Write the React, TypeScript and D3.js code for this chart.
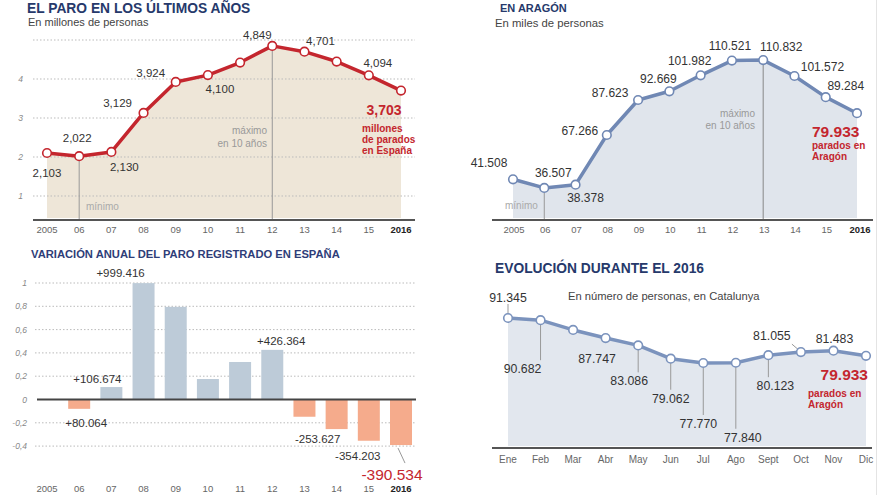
import React from 'react';
import * as d3 from 'd3';

// ---------- DATA ----------
const years = ['2005', '06', '07', '08', '09', '10', '11', '12', '13', '14', '15', '2016'];

const spainParo = [2.103, 2.022, 2.13, 3.129, 3.924, 4.1, 4.422, 4.849, 4.701, 4.448, 4.094, 3.703];
const spainLabels = ['2,103', '2,022', '2,130', '3,129', '3,924', '4,100', '', '4,849', '4,701', '', '4,094', ''];
const spainGrid = [1, 2, 3, 4, 5];
const spainTickLabels = ['1', '2', '3', '4'];

const aragonParo = [41.508, 36.507, 38.378, 67.266, 87.623, 92.669, 101.982, 110.521, 110.832, 101.572, 89.284, 79.933];
const aragonLabels = ['41.508', '36.507', '38.378', '67.266', '87.623', '92.669', '101.982', '110.521', '110.832', '101.572', '89.284', ''];

const variacion = [null, -0.08, 0.107, 0.999, 0.795, 0.176, 0.322, 0.426, -0.148, -0.254, -0.354, -0.391];
const variacionLabels = ['', '+80.064', '+106.674', '+999.416', '', '', '', '+426.364', '', '-253.627', '-354.203', ''];
const variacionTicks = [1, 0.8, 0.6, 0.4, 0.2, 0, -0.2, -0.4];

const months = ['Ene', 'Feb', 'Mar', 'Abr', 'May', 'Jun', 'Jul', 'Ago', 'Sept', 'Oct', 'Nov', 'Dic'];
const paro2016 = [91.345, 90.682, 87.747, 85.3, 83.086, 79.062, 77.77, 77.84, 80.123, 81.055, 81.483, 79.933];
const paro2016Labels = ['91.345', '90.682', '87.747', '', '83.086', '79.062', '77.770', '77.840', '80.123', '81.055', '81.483', ''];

// ---------- LAYOUT (label offsets relative to marks) ----------
const spainOff: [number, number][] = [[0, 24], [-2, -14], [13, 19], [-26, -6], [-25, -5], [12, 18], [0, 0], [-15, -7], [16, -7], [0, 0], [9, -8], [0, 0]];
const aragonOff: [number, number][] = [[-24, -12], [9, -11], [10, 17], [-27, 0], [-28, -3], [-11, -8], [-11, -10], [-2, -11], [18, -9], [28, -5], [20, -7], [0, 0]];
const varOff: [number, number][] = [[0, 0], [7, 18], [-14, -4], [-23, -6], [0, 0], [0, 0], [0, 0], [9, -5], [0, 0], [-19, 14], [-11, 19], [0, 0]];
const p16Off: [number, number, number][] = [
  // dx, dy, leader type
  [0, -16, 2], [-18, 53, 1], [24, 33, 0], [0, 0, 0], [-9, 40, 1], [0, 44, 1], [-5, 65, 1], [7, 79, 1], [7, 35, 1], [-29, -12, 3], [1, -8, 0], [0, 0, 0],
];

const FONT = '"Liberation Sans", Arial, Helvetica, sans-serif';
const TITLE = '#26396b';
const RED = '#c4262e';
const LABEL = '#333';
const TICK = '#888';

const fmt = (v: number) => String(v).replace('.', ',');

export default function App() {
  // Panel 1
  const x1 = d3.scalePoint<string>().domain(years).range([47, 401]);
  const y1 = d3.scaleLinear().domain([0, 5]).range([235, 40]);
  const line1 = d3.line<number>().x((_, i) => x1(years[i])!).y((d) => y1(d));
  const area1 = d3.area<number>().x((_, i) => x1(years[i])!).y0(218).y1((d) => y1(d));

  // Panel 2
  const x2 = d3.scalePoint<string>().domain(years).range([513, 857]);
  const y2 = d3.scaleLinear().domain([0, 120]).range([250.7, 44.3]);
  const line2 = d3.line<number>().x((_, i) => x2(years[i])!).y((d) => y2(d));
  const area2 = d3.area<number>().x((_, i) => x2(years[i])!).y0(218).y1((d) => y2(d));

  // Panel 3
  const x3 = d3.scalePoint<string>().domain(years).range([47, 401]);
  const y3 = d3.scaleLinear().domain([0, 1]).range([399.5, 283]);
  const barW = 22;

  // Panel 4
  const x4 = d3.scalePoint<string>().domain(months).range([508, 866]);
  const y4 = d3.scaleLinear().domain([77.77, 91.345]).range([363, 318]);
  const line4 = d3.line<number>().x((_, i) => x4(months[i])!).y((d) => y4(d));
  const area4 = d3.area<number>().x((_, i) => x4(months[i])!).y0(446).y1((d) => y4(d));

  const i06 = 1, i12 = 7, i13 = 8;

  return (
    <svg width={880} height={495} style={{ position: 'absolute', left: 0, top: 0, background: '#fff' }} fontFamily={FONT}>
      <rect width={880} height={495} fill="#fff" />
      <line x1={876.5} x2={876.5} y1={0} y2={495} stroke="#e4e4e4" strokeWidth={1} />

      {/* ========== PANEL 1 ========== */}
      <text x={27} y={13} fontSize={13.8} fontWeight="bold" fill={TITLE}>EL PARO EN LOS ÚLTIMOS AÑOS</text>
      <text x={28} y={26} fontSize={11} fill="#444">En millones de personas</text>
      <path d={area1(spainParo)!} fill="#eee6d8" />
      {spainGrid.map((t) => (
        <line key={t} x1={33} x2={415} y1={y1(t)} y2={y1(t)} stroke="#bbb" strokeDasharray="1.5,2" />
      ))}
      {spainTickLabels.map((t) => (
        <text key={t} x={23} y={y1(+t) + 3} fontSize={8.5} fontStyle="italic" fill={TICK} textAnchor="end">{t}</text>
      ))}
      <line x1={x1(years[i06])} x2={x1(years[i06])} y1={y1(spainParo[i06])} y2={220} stroke="#999" />
      <line x1={x1(years[i12])} x2={x1(years[i12])} y1={y1(spainParo[i12])} y2={220} stroke="#999" />
      <text x={86} y={210} fontSize={10} fill="#aaa">mínimo</text>
      <text x={267} y={134} fontSize={10} fill="#999" textAnchor="end">máximo</text>
      <text x={267} y={147} fontSize={10} fill="#999" textAnchor="end">en 10 años</text>
      <line x1={33} x2={415} y1={220} y2={220} stroke="#555" strokeWidth={2} />
      <path d={line1(spainParo)!} fill="none" stroke={RED} strokeWidth={3.5} strokeLinejoin="round" />
      {spainParo.map((v, i) => (
        <circle key={i} cx={x1(years[i])} cy={y1(v)} r={4.3} fill="#fff" stroke={RED} strokeWidth={1.6} />
      ))}
      {spainLabels.map((l, i) =>
        l ? (
          <text key={i} x={x1(years[i])! + spainOff[i][0]} y={y1(spainParo[i]) + spainOff[i][1]} fontSize={11.5} fill={LABEL} textAnchor="middle">{l}</text>
        ) : null
      )}
      <text x={384} y={115} fontSize={14} fontWeight="bold" fill={RED} textAnchor="middle">{fmt(spainParo[11])}</text>
      <text x={362} y={132} fontSize={10} fontWeight="bold" fill={RED}>millones</text>
      <text x={362} y={143} fontSize={10} fontWeight="bold" fill={RED}>de parados</text>
      <text x={362} y={154} fontSize={10} fontWeight="bold" fill={RED}>en España</text>
      {years.map((y, i) => (
        <text key={y} x={x1(y)} y={233} fontSize={9.5} fill={i === 11 ? '#222' : '#666'} fontWeight={i === 11 ? 'bold' : 'normal'} textAnchor="middle">{y}</text>
      ))}

      {/* ========== PANEL 2 ========== */}
      <text x={500} y={12} fontSize={11} fontWeight="bold" fill={TITLE}>EN ARAGÓN</text>
      <text x={495} y={27} fontSize={11.3} fill="#444">En miles de personas</text>
      <path d={area2(aragonParo)!} fill="#e0e5ec" />
      <line x1={x2(years[i06])} x2={x2(years[i06])} y1={y2(aragonParo[i06])} y2={220} stroke="#999" />
      <line x1={x2(years[i13])} x2={x2(years[i13])} y1={y2(aragonParo[i13])} y2={220} stroke="#888" />
      <text x={505} y={209} fontSize={10} fill="#aaa">mínimo</text>
      <text x={755} y={117} fontSize={10} fill="#999" textAnchor="end">máximo</text>
      <text x={755} y={129} fontSize={10} fill="#999" textAnchor="end">en 10 años</text>
      <line x1={492} x2={873} y1={220} y2={220} stroke="#555" strokeWidth={2} />
      <path d={line2(aragonParo)!} fill="none" stroke="#7088b4" strokeWidth={3.5} strokeLinejoin="round" />
      {aragonParo.map((v, i) => (
        <circle key={i} cx={x2(years[i])} cy={y2(v)} r={4.3} fill="#fff" stroke="#7088b4" strokeWidth={1.6} />
      ))}
      {aragonLabels.map((l, i) =>
        l ? (
          <text key={i} x={x2(years[i])! + aragonOff[i][0]} y={y2(aragonParo[i]) + aragonOff[i][1]} fontSize={12} fill={LABEL} textAnchor="middle">{l}</text>
        ) : null
      )}
      <text x={812} y={137} fontSize={15.5} fontWeight="bold" fill={RED}>{aragonParo[11].toFixed(3)}</text>
      <text x={812} y={149} fontSize={10} fontWeight="bold" fill={RED}>parados en</text>
      <text x={812} y={160} fontSize={10} fontWeight="bold" fill={RED}>Aragón</text>
      {years.map((y, i) => (
        <text key={y} x={x2(y)! + (i === 11 ? 3 : 1)} y={233} fontSize={9.5} fill={i === 11 ? '#222' : '#666'} fontWeight={i === 11 ? 'bold' : 'normal'} textAnchor="middle">{y}</text>
      ))}

      {/* ========== PANEL 3 ========== */}
      <text x={31} y={258} fontSize={11.2} fontWeight="bold" fill="#2e3d78">VARIACIÓN ANUAL DEL PARO REGISTRADO EN ESPAÑA</text>
      {variacionTicks.map((t) => (
        <g key={t}>
          {t !== 0 && <line x1={35} x2={415} y1={y3(t)} y2={y3(t)} stroke="#bbb" strokeDasharray="1.5,2" />}
          <text x={27} y={y3(t) + 3} fontSize={8.5} fontStyle="italic" fill={TICK} textAnchor="end">{fmt(t)}</text>
        </g>
      ))}
      {variacion.map((v, i) =>
        v === null ? null : (
          <rect
            key={i}
            x={x3(years[i])! - barW / 2}
            y={v >= 0 ? y3(v) : y3(0)}
            width={barW}
            height={Math.abs(y3(v) - y3(0))}
            fill={v >= 0 ? '#bdcbd8' : '#f5ab8c'}
          />
        )
      )}
      <line x1={37} x2={416} y1={y3(0)} y2={y3(0)} stroke="#444" strokeWidth={2} />
      {variacionLabels.map((l, i) =>
        l && variacion[i] !== null ? (
          <text key={i} x={x3(years[i])! + varOff[i][0]} y={y3(variacion[i] as number) + varOff[i][1]} fontSize={11.5} fill={LABEL} textAnchor="middle">{l}</text>
        ) : null
      )}
      <line x1={x3(years[11])! - 3} x2={x3(years[11])! + 4} y1={y3(variacion[11] as number) + 3} y2={y3(variacion[11] as number) + 18} stroke="#999" />
      <text x={x3(years[11])! - 9} y={y3(variacion[11] as number) + 35} fontSize={15.5} fill={RED} textAnchor="middle">-390.534</text>
      {years.map((y, i) => (
        <text key={y} x={x3(y)} y={492} fontSize={9.5} fill={i === 11 ? '#222' : '#666'} fontWeight={i === 11 ? 'bold' : 'normal'} textAnchor="middle">{y}</text>
      ))}

      {/* ========== PANEL 4 ========== */}
      <text x={495} y={273} fontSize={13.8} fontWeight="bold" fill={TITLE}>EVOLUCIÓN DURANTE EL 2016</text>
      <text x={568} y={300} fontSize={11.2} fill="#444">En número de personas, en Catalunya</text>
      <path d={area4(paro2016)!} fill="#e2e7ee" />
      {paro2016.map((v, i) => {
        const o = p16Off[i];
        const px = x4(months[i])!;
        const py = y4(v);
        if (o[2] === 1) return <line key={i} x1={px} x2={px} y1={py} y2={py + o[1] - 13} stroke="#999" />;
        if (o[2] === 2) return <line key={i} x1={px} x2={px} y1={py - 14} y2={py - 4} stroke="#999" />;
        if (o[2] === 3) return <line key={i} x1={px - 9} x2={px - 2} y1={py - 8} y2={py - 2} stroke="#999" />;
        return null;
      })}
      <line x1={492} x2={872} y1={448} y2={448} stroke="#555" strokeWidth={2} />
      <path d={line4(paro2016)!} fill="none" stroke="#7b93bd" strokeWidth={3.5} strokeLinejoin="round" />
      {paro2016.map((v, i) => (
        <circle key={i} cx={x4(months[i])} cy={y4(v)} r={4.3} fill="#fff" stroke="#7b93bd" strokeWidth={1.6} />
      ))}
      {paro2016Labels.map((l, i) =>
        l ? (
          <text key={i} x={x4(months[i])! + p16Off[i][0]} y={y4(paro2016[i]) + p16Off[i][1]} fontSize={12.3} fill={LABEL} textAnchor="middle">{l}</text>
        ) : null
      )}
      <text x={868} y={380} fontSize={15.5} fontWeight="bold" fill={RED} textAnchor="end">{paro2016[11].toFixed(3)}</text>
      <text x={808} y={397} fontSize={10} fontWeight="bold" fill={RED}>parados en</text>
      <text x={808} y={408} fontSize={10} fontWeight="bold" fill={RED}>Aragón</text>
      {months.map((m) => (
        <text key={m} x={x4(m)} y={463} fontSize={10} fill="#666" textAnchor="middle">{m}</text>
      ))}
    </svg>
  );
}
